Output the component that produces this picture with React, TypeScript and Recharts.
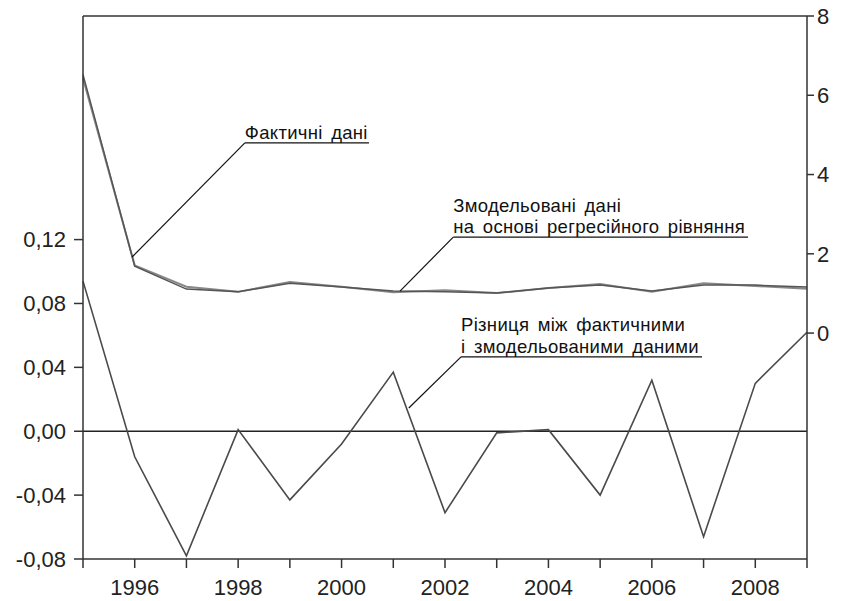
import { ComposedChart, Line, XAxis, YAxis, ReferenceLine } from "recharts";

const FONT = '"Liberation Sans", Arial, sans-serif';

const years = [1995, 1996, 1997, 1998, 1999, 2000, 2001, 2002, 2003, 2004, 2005, 2006, 2007, 2008, 2009];
// фактичні та змодельовані дані (права шкала)
const actual = [6.52, 1.69, 1.11, 1.04, 1.26, 1.16, 1.06, 1.04, 1.01, 1.14, 1.21, 1.06, 1.21, 1.21, 1.16];
const fitted = [6.43, 1.71, 1.17, 1.04, 1.29, 1.17, 1.03, 1.08, 1.01, 1.14, 1.24, 1.04, 1.26, 1.19, 1.12];
// залишки (ліва шкала)
const residual = [0.094, -0.016, -0.078, 0.001, -0.043, -0.008, 0.037, -0.051, -0.001, 0.001, -0.04, 0.032, -0.066, 0.03, 0.062];

const leftTicks = [-0.08, -0.04, 0, 0.04, 0.08, 0.12];
const rightTicks = [0, 2, 4, 6, 8];

// підписи-виноски: текст, початок підкреслення, кінець підкреслення, точка на лінії
const notes = [
  { lines: ["Фактичні дані"], from: [1998.13, 4.8], to: [2000.53, 4.8], tip: [1995.95, 1.92] },
  {
    lines: ["Змодельовані дані", "на основі регресійного рівняння"],
    from: [2002.16, 2.42],
    to: [2007.86, 2.42],
    tip: [2001.13, 1.06],
  },
  {
    lines: ["Різниця між фактичними", "і змодельованими даними"],
    from: [2002.31, -0.6],
    to: [2006.97, -0.6],
    tip: [2001.3, -1.89],
  },
];

const rows = years.map((year, i) => ({
  year,
  actual: actual[i],
  fitted: fitted[i],
  residual: residual[i],
}));

const fmt = (v: number) => v.toFixed(2).replace(".", ",");

function NoteLabel({ viewBox, lines }: any) {
  if (!viewBox) return null;
  const x = viewBox.x;
  const base = viewBox.y - 4;
  const n = lines.length;
  return (
    <g>
      {lines.map((t: string, i: number) => (
        <text
          key={i}
          x={x}
          y={base - (n - 1 - i) * 21.5}
          fontSize={18.5}
          letterSpacing={0.3}
          wordSpacing={3}
          fontFamily={FONT}
          fill="#111"
        >
          {t}
        </text>
      ))}
    </g>
  );
}

export default function App() {
  const axisStroke = "#333";
  return (
    <div style={{ position: "absolute", left: 0, top: 0, background: "#fff" }}>
      <ComposedChart width={843} height={601} data={rows} margin={{ top: 16, right: 0, bottom: 0, left: 0 }}>
        <XAxis
          dataKey="year"
          type="number"
          domain={[1995, 2009]}
          ticks={years}
          interval={0}
          height={42}
          tickSize={9}
          tickMargin={11}
          tickFormatter={(v: number) => (v % 2 === 0 ? String(v) : "")}
          axisLine={{ stroke: axisStroke, strokeWidth: 1.5 }}
          tickLine={{ stroke: axisStroke, strokeWidth: 1.5 }}
          tick={{ fill: "#222", fontSize: 22, fontFamily: FONT }}
        />
        <YAxis
          yAxisId="left"
          domain={[-0.08, 0.26]}
          ticks={leftTicks}
          allowDataOverflow
          width={83}
          tickSize={9}
          tickMargin={8}
          tickFormatter={fmt}
          axisLine={{ stroke: axisStroke, strokeWidth: 1.5 }}
          tickLine={{ stroke: axisStroke, strokeWidth: 1.5 }}
          tick={{ fill: "#222", fontSize: 22, fontFamily: FONT }}
        />
        <YAxis
          yAxisId="right"
          orientation="right"
          domain={[-5.7, 8]}
          ticks={rightTicks}
          allowDataOverflow
          width={36}
          tickSize={7}
          tickMargin={3}
          axisLine={{ stroke: axisStroke, strokeWidth: 1.5 }}
          tickLine={{ stroke: axisStroke, strokeWidth: 1.5 }}
          tick={{ fill: "#222", fontSize: 22, fontFamily: FONT }}
        />
        <ReferenceLine yAxisId="right" y={8} stroke={axisStroke} strokeWidth={1.5} />
        <ReferenceLine yAxisId="left" y={0} stroke="#222" strokeWidth={1.5} />

        <Line yAxisId="right" dataKey="fitted" stroke="#888" strokeWidth={2} dot={false} isAnimationActive={false} />
        <Line yAxisId="right" dataKey="actual" stroke="#555" strokeWidth={1.5} dot={false} isAnimationActive={false} />
        <Line yAxisId="left" dataKey="residual" stroke="#4a4a4a" strokeWidth={1.6} dot={false} isAnimationActive={false} />

        {notes.map((n, i) => (
          <ReferenceLine
            key={`tip-${i}`}
            yAxisId="right"
            segment={[
              { x: n.from[0], y: n.from[1] },
              { x: n.tip[0], y: n.tip[1] },
            ]}
            stroke="#111"
            strokeWidth={1.2}
          />
        ))}
        {notes.map((n, i) => (
          <ReferenceLine
            key={`ul-${i}`}
            yAxisId="right"
            segment={[
              { x: n.from[0], y: n.from[1] },
              { x: n.to[0], y: n.to[1] },
            ]}
            stroke="#111"
            strokeWidth={1.2}
            label={<NoteLabel lines={n.lines} />}
          />
        ))}
      </ComposedChart>
    </div>
  );
}
